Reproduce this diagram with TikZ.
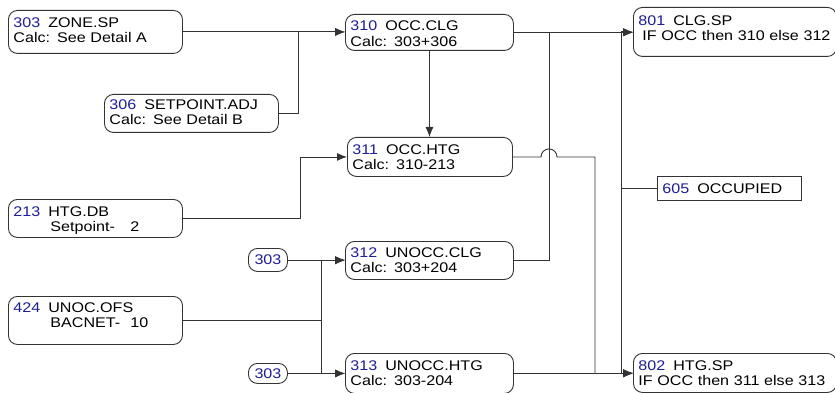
\documentclass[tikz,border=0pt]{standalone}
\usepackage{fontspec}
\setmainfont{Liberation Sans}[FakeStretch=1.15]
\usetikzlibrary{arrows.meta}
\definecolor{ptblue}{HTML}{1E1E96}
\definecolor{wire}{HTML}{333333}
% point number in blue, then the gap before the name
\newcommand\ptnum[1]{\textcolor{ptblue}{#1}\hspace{8pt}}
% two text lines: top strut height, line 1, line 2, bottom depth
\newcommand\twolines[4]{\rule{0pt}{#1}#2\\#3\rule[-#4]{0pt}{#4}}
\newcommand\fieldbox[1]{\makebox[80pt][l]{#1}}

\begin{document}
\begin{tikzpicture}[x=1pt,y=-1pt,
  blk/.style={draw=wire,line width=0.9pt,rounded corners=9pt,anchor=north west,
    inner xsep=5pt,inner ysep=0pt,align=left,font=\fontsize{14}{15.5}\selectfont},
  tag/.style={draw=wire,line width=0.9pt,rounded corners=9pt,anchor=north west,
    inner sep=0pt,text=ptblue,font=\fontsize{14}{15.5}\selectfont},
  flow/.style={draw=wire,line width=0.9pt,-{Latex[length=10pt,width=8pt]}}]
\useasboundingbox (0,0) rectangle (835,393);

% inputs
\node[blk,text width=164pt] (zone) at (8,10)
  {\twolines{17pt}{\ptnum{303}ZONE.SP}{Calc: See Detail A}{10.5pt}};
\node[blk,text width=164pt] (spadj) at (104,94)
  {\twolines{15pt}{\ptnum{306}SETPOINT.ADJ}{Calc: See Detail B}{7.5pt}};
\node[blk,text width=164pt] (htgdb) at (8,199)
  {\twolines{17pt}{\ptnum{213}HTG.DB}{\hspace*{37pt}\fieldbox{Setpoint-}2}{5.5pt}};
\node[blk,text width=164pt] (unocofs) at (8,296)
  {\twolines{16pt}{\ptnum{424}UNOC.OFS}{\hspace*{37pt}\fieldbox{BACNET-}10}{16.5pt}};
\node[tag,minimum width=39pt,minimum height=23pt] (zoneA) at (248,248) {303};
\node[tag,minimum width=39pt,minimum height=20pt] (zoneB) at (248,363) {303};

% calculations
\node[blk,text width=158pt] (occclg) at (345,14)
  {\twolines{16.5pt}{\ptnum{310}OCC.CLG}{Calc: 303+306}{4pt}};
\node[blk,text width=155pt] (occhtg) at (347,137)
  {\twolines{17pt}{\ptnum{311}OCC.HTG}{Calc: 310-213}{6.5pt}};
\node[blk,text width=158pt] (unoclg) at (345,241)
  {\twolines{16pt}{\ptnum{312}UNOCC.CLG}{Calc: 303+204}{6.5pt}};
\node[blk,text width=158pt] (unohtg) at (345,353)
  {\twolines{17pt}{\ptnum{313}UNOCC.HTG}{Calc: 303-204}{7.5pt}};

% outputs
\node[blk,text width=193pt] (clgsp) at (633,7)
  {\twolines{18pt}{\ptnum{801}CLG.SP}{\hspace*{4pt}IF OCC then 310 else 312}{15.5pt}};
\node[blk,rounded corners=0pt,text width=134pt,minimum height=24pt] (occ) at (657,176)
  {\ptnum{605}OCCUPIED};
\node[blk,text width=193pt] (htgsp) at (633,353)
  {\twolines{17pt}{\ptnum{802}HTG.SP}{IF OCC then 311 else 313}{6.5pt}};

% bus lines
\coordinate (xa) at (298,0);
\coordinate (xb) at (300,0);
\coordinate (xc) at (321,0);
\coordinate (xd) at (549,0);
\coordinate (xe) at (595,0);
\coordinate (xf) at (621,0);

\draw[flow] (zone.east) -- (zone.east -| occclg.west);
\draw[flow] (spadj.east) -| (xa |- zone.east) -- (zone.east -| occclg.west);
\draw[flow] (occclg.south) -- (occclg.south |- occhtg.north);
\draw[flow] (htgdb.east) -| (xb |- occhtg.west) -- (occhtg.west);
\draw[flow] (zoneA.east) -- (zoneA.east -| unoclg.west);
\draw[flow] (zoneB.east) -- (zoneB.east -| unohtg.west);
\draw[flow] (unocofs.east) -| (xc |- unoclg.west) -- (unoclg.west);
\draw[flow] (unocofs.east) -| (xc |- unohtg.west) -- (unohtg.west);
\draw[flow] (occclg.east) -- (occclg.east -| clgsp.west);
\draw[flow] (unoclg.east) -| (xd |- occclg.east) -- (occclg.east -| clgsp.west);
\draw[flow] (occhtg.east) -- ([xshift=-8pt]xd |- occhtg.east)
  arc[start angle=180,end angle=0,radius=8pt] -| (xe |- unohtg.east)
  -- (unohtg.east -| htgsp.west);
\draw[flow] (unohtg.east) -- (unohtg.east -| htgsp.west);
\draw[flow] (occ.west) -| (xf |- clgsp.west) -- (clgsp.west);
\draw[flow] (occ.west) -| (xf |- htgsp.west) -- (htgsp.west);
\end{tikzpicture}
\end{document}
